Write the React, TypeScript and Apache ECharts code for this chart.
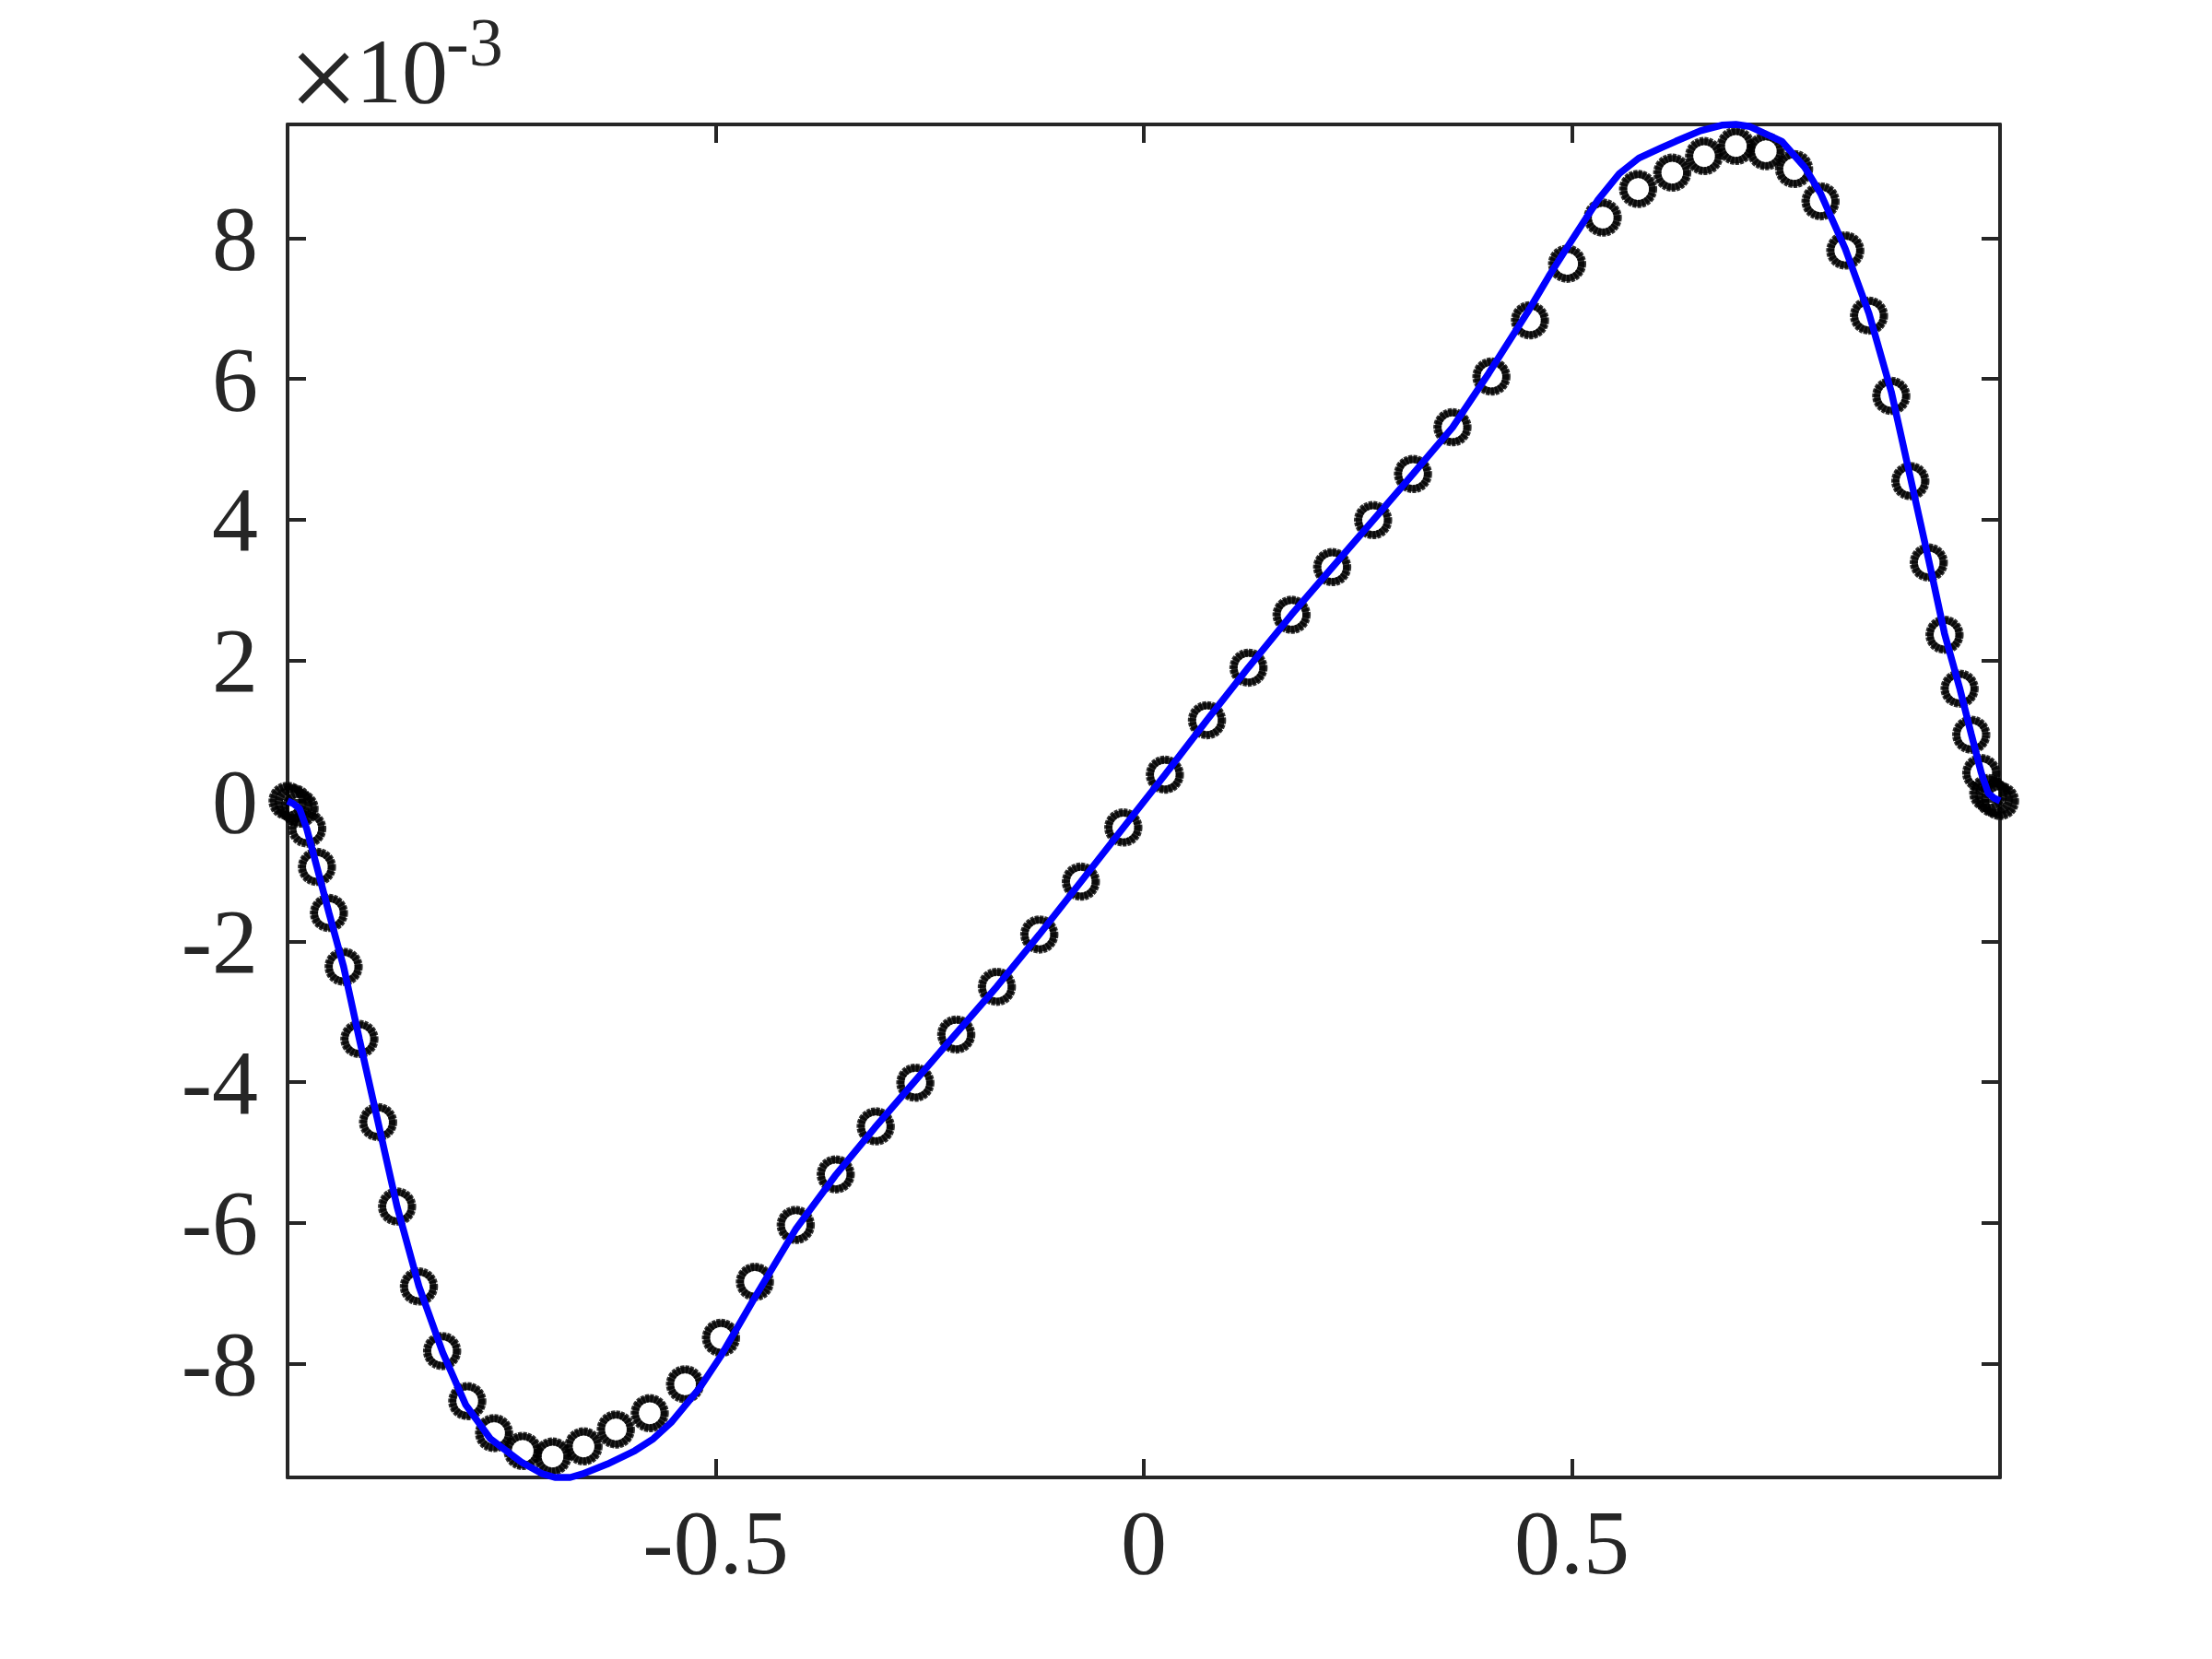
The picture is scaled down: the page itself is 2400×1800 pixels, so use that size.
import React, { useEffect, useRef } from "react";
import * as echarts from "echarts";

// Markers (values in units of 1e-3)
const markerX = [
  -1.0, -0.993, -0.986, -0.977, -0.9657, -0.9517, -0.9345, -0.9161, -0.8943, -0.8721,
  -0.8466, -0.8195, -0.7901, -0.7588, -0.7254, -0.6905, -0.6543, -0.6166, -0.577, -0.5358,
  -0.4938, -0.4542, -0.4065, -0.3598, -0.3131, -0.2668, -0.219, -0.1716, -0.122, -0.0735,
  -0.0239, 0.0246, 0.0738, 0.1223, 0.1726, 0.22, 0.2678, 0.3144, 0.3605, 0.406,
  0.451, 0.4944, 0.536, 0.5773, 0.6172, 0.6544, 0.6915, 0.7265, 0.7595, 0.7904,
  0.8193, 0.847, 0.873, 0.8953, 0.9168, 0.9352, 0.9528, 0.9664, 0.9781, 0.9863,
  0.993, 1.0,
];
const markerY = [
  0.0, -0.035, -0.108, -0.392, -0.938, -1.593, -2.358, -3.386, -4.567, -5.768,
  -6.905, -7.823, -8.535, -8.99, -9.243, -9.322, -9.178, -8.938, -8.706, -8.295,
  -7.635, -6.839, -6.03, -5.31, -4.628, -4.007, -3.321, -2.643, -1.899, -1.148,
  -0.378, 0.374, 1.148, 1.895, 2.647, 3.325, 3.993, 4.649, 5.314, 6.035,
  6.835, 7.639, 8.295, 8.702, 8.934, 9.17, 9.314, 9.239, 8.986, 8.527,
  7.827, 6.901, 5.76, 4.548, 3.39, 2.363, 1.597, 0.942, 0.396, 0.111,
  0.04, 0.0,
];

// Solid reference curve (values in units of 1e-3)
const lineX = [
  -1.0, -0.993, -0.986, -0.9775, -0.9657, -0.9517, -0.9345, -0.9161, -0.8943, -0.8721,
  -0.8466, -0.8189, -0.7918, -0.7632, -0.7272, -0.7021, -0.6878, -0.6698, -0.6555, -0.6267,
  -0.5944, -0.5728, -0.5513, -0.5189, -0.4938, -0.4542, -0.406, -0.3605, -0.3144, -0.2678,
  -0.22, -0.1716, -0.122, -0.0735, -0.0239, 0.0246, 0.0738, 0.1223, 0.1726, 0.22,
  0.2678, 0.3144, 0.3605, 0.4028, 0.4482, 0.473, 0.4944, 0.5141, 0.5307, 0.5554,
  0.5781, 0.6048, 0.6213, 0.6502, 0.675, 0.6915, 0.708, 0.7451, 0.7719, 0.7904,
  0.8193, 0.847, 0.873, 0.8953, 0.9168, 0.9352, 0.9528, 0.9664, 0.9781, 0.9863,
  0.993, 1.0,
];
const lineY = [
  0.0, -0.04, -0.11, -0.4, -0.94, -1.59, -2.36, -3.39, -4.57, -5.77,
  -6.9, -7.84, -8.59, -9.07, -9.4, -9.57, -9.62, -9.62, -9.57, -9.43,
  -9.24, -9.07, -8.83, -8.35, -7.89, -7.06, -6.08, -5.33, -4.65, -3.99,
  -3.32, -2.64, -1.9, -1.15, -0.38, 0.37, 1.15, 1.9, 2.65, 3.32,
  3.99, 4.65, 5.31, 6.08, 6.95, 7.46, 7.87, 8.24, 8.55, 8.92,
  9.14, 9.29, 9.38, 9.53, 9.61, 9.62, 9.59, 9.38, 9.01, 8.64,
  7.85, 6.93, 5.82, 4.6, 3.42, 2.38, 1.61, 0.95, 0.4, 0.11,
  0.04, 0.0,
];

const xTicks = [-0.5, 0, 0.5];
const yTicks = [-8, -6, -4, -2, 0, 2, 4, 6, 8];
const xMin = -1;
const xMax = 1;
const yMin = -9.62;
const yMax = 9.62;

const TXT = "#262626";
const FONT = "'Liberation Serif', 'Times New Roman', serif";

export default function App() {
  const ref = useRef<HTMLDivElement>(null);
  useEffect(() => {
    if (!ref.current) return;
    const chart = echarts.init(ref.current, undefined, { renderer: "svg" });
    const markers = markerX.map((x, i) => [x, markerY[i]]);
    const line = lineX.map((x, i) => [x, lineY[i]]);
    const axisLine = { show: true, onZero: false, lineStyle: { color: TXT, width: 4 } };
    const tick = (vals: number[]) => ({
      show: true, inside: true, length: 20, lineStyle: { color: TXT, width: 4 }, customValues: vals,
    });
    const fmt = (v: number) => (v === 0 ? "0" : String(v));
    chart.setOption({
      animation: false,
      backgroundColor: "#ffffff",
      grid: { left: 312, top: 135, width: 1858, height: 1468, containLabel: false },
      xAxis: [
        {
          type: "value", min: xMin, max: xMax, position: "bottom",
          axisLine, splitLine: { show: false }, axisTick: tick(xTicks),
          axisLabel: {
            show: true, customValues: xTicks, formatter: fmt, color: TXT,
            fontFamily: FONT, fontSize: 100, margin: 70, verticalAlign: "middle",
          },
        },
        {
          type: "value", min: xMin, max: xMax, position: "top",
          axisLine, splitLine: { show: false }, axisTick: tick(xTicks),
          axisLabel: { show: false },
        },
      ],
      yAxis: [
        {
          type: "value", min: yMin, max: yMax, position: "left",
          axisLine, splitLine: { show: false }, axisTick: tick(yTicks),
          axisLabel: {
            show: true, customValues: yTicks, formatter: fmt, color: TXT,
            fontFamily: FONT, fontSize: 100, margin: 32,
          },
        },
        {
          type: "value", min: yMin, max: yMax, position: "right",
          axisLine, splitLine: { show: false }, axisTick: tick(yTicks),
          axisLabel: { show: false },
        },
      ],
      graphic: [
        {
          type: "text", x: 351, y: 84, z: 10,
          style: {
            text: "×", fontFamily: FONT, fontSize: 135, lineHeight: 100, fill: TXT,
            align: "center", verticalAlign: "middle",
          },
        },
        {
          type: "text", x: 386, y: 77, z: 10,
          style: {
            text: "10", fontFamily: FONT, fontSize: 100, lineHeight: 100, fill: TXT,
            align: "left", verticalAlign: "middle",
          },
        },
        {
          type: "text", x: 484, y: 46, z: 10,
          style: {
            text: "-3", fontFamily: FONT, fontSize: 74, lineHeight: 74, fill: TXT,
            align: "left", verticalAlign: "middle",
          },
        },
      ],
      series: [
        {
          type: "scatter", data: markers, symbol: "circle", symbolSize: 31, clip: false, z: 2,
          itemStyle: { color: "transparent", borderColor: "#000000", borderWidth: 7 },
        },
        {
          type: "scatter", data: markers, symbol: "circle", symbolSize: 32.5, clip: false, z: 3,
          itemStyle: { color: "transparent", borderColor: "#000000", borderWidth: 9, borderType: [3.5, 1] },
        },
        {
          type: "line", data: line, showSymbol: false, clip: false, z: 4, smooth: false,
          lineStyle: { color: "#0000ff", width: 7.5 },
        },
      ],
    });
    return () => chart.dispose();
  }, []);
  return (
    <div
      ref={ref}
      style={{ position: "absolute", left: 0, top: 0, width: 2400, height: 1800, background: "#fff" }}
    />
  );
}
